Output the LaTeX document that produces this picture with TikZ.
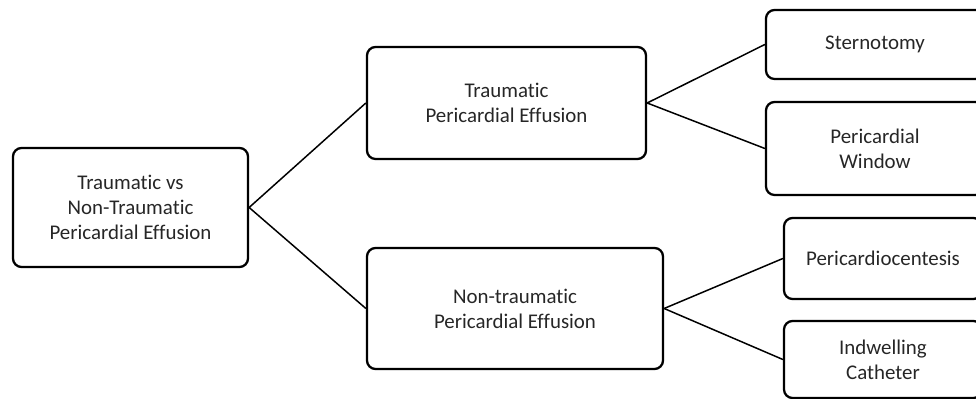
\documentclass[tikz,border=0pt]{standalone}
\usepackage{fontspec}
\setmainfont{Carlito}[Ligatures=NoCommon]
\usepackage{xcolor}

\begin{document}
\begin{tikzpicture}[box/.style={draw, line width=1.3pt, rounded corners=0.17cm, align=center, text=black!85, font=\fontsize{11.9}{14.2}\selectfont, inner sep=0pt}, link/.style={line width=0.85pt}]
	% Frame of the picture:
	\useasboundingbox (0, 0) rectangle (19.52, 7.98);
	\clip (0, 0) rectangle (19.52, 7.98);
	% Boxes:
	\node[box, minimum width=4.70cm, minimum height=2.38cm](root) at (2.61, 3.83){Traumatic vs\\Non-Traumatic\\Pericardial Effusion};
	\node[box, minimum width=5.58cm, minimum height=2.24cm](trauma) at (10.13, 5.92){Traumatic\\Pericardial Effusion};
	\node[box, minimum width=5.92cm, minimum height=2.42cm](nontrauma) at (10.30, 1.81){Non-traumatic\\Pericardial Effusion};
	\node[box, minimum width=4.36cm, minimum height=1.38cm](sterno) at (17.50, 7.09){Sternotomy};
	\node[box, minimum width=4.36cm, minimum height=1.86cm](window) at (17.50, 5.01){Pericardial\\Window};
	\node[box, minimum width=3.96cm, minimum height=1.62cm](pericardio) at (17.66, 2.81){Pericardiocentesis};
	\node[box, minimum width=3.96cm, minimum height=1.54cm](catheter) at (17.66, 0.79){Indwelling\\Catheter};
	% Wires:
	\draw[link] (root.east) -- (trauma.west);
	\draw[link] (root.east) -- (nontrauma.west);
	\draw[link] (trauma.east) -- (sterno.west);
	\draw[link] (trauma.east) -- (window.west);
	\draw[link] (nontrauma.east) -- (pericardio.west);
	\draw[link] (nontrauma.east) -- (catheter.west);
\end{tikzpicture}
\end{document}
